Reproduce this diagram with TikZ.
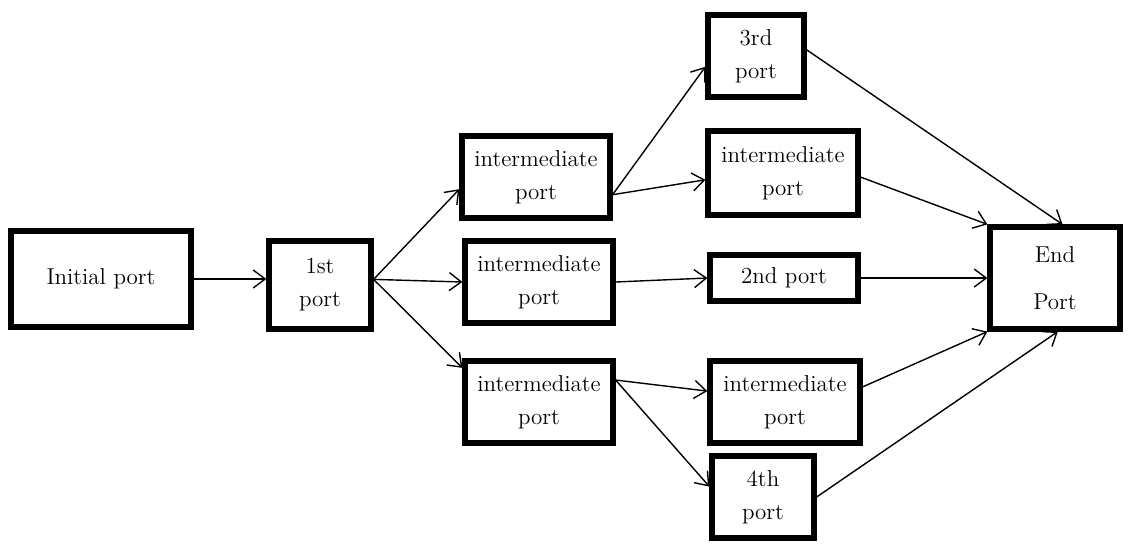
\documentclass[tikz,border=0pt]{standalone}
\usepackage{tikz}
\usetikzlibrary{arrows.meta, positioning}

\newcommand{\portfont}{\fontsize{11.5}{16.5}\selectfont}

\begin{document}
\begin{tikzpicture}[
    x=0.5pt, y=-0.5pt,
    port/.style={draw, line width=2.6pt, align=center, inner sep=0pt,
                 font=\portfont},
    flow/.style={-{Straight Barb[length=6pt,width=9pt]}, line width=0.7pt}
]
    \useasboundingbox (0,0) rectangle (1132,543);

    % Ports, left to right
    \node[port, minimum width=90pt, minimum height=48pt] (init) at (101,279) {Initial port};
    \node[port, minimum width=51pt, minimum height=44pt] (first) at (320,285) {1st\\port};

    \node[port, minimum width=74pt, minimum height=41pt] (imA) at (536,177) {intermediate\\port};
    \node[port, minimum width=74pt, minimum height=41pt] (imB) at (539,282) {intermediate\\port};
    \node[port, minimum width=74pt, minimum height=41pt] (imC) at (539,402) {intermediate\\port};

    \node[port, minimum width=48pt, minimum height=41pt] (third) at (756,56) {3rd\\port};
    \node[port, minimum width=75pt, minimum height=42pt] (imD) at (783,173) {intermediate\\port};
    \node[port, minimum width=74pt, minimum height=23pt] (second) at (784,278) {2nd port};
    \node[port, minimum width=75pt, minimum height=41pt] (imE) at (785,402) {intermediate\\port};
    \node[port, minimum width=51pt, minimum height=41pt] (fourth) at (763,497) {4th\\port};

    \node[port, minimum width=65pt, minimum height=51pt] (endp) at (1055,278) {End\\[7pt]Port};

    % Connections
    \draw[flow] (init.east) -- (init.east -| first.west);
    \draw[flow] (first.6) -- (imA.189);
    \draw[flow] (first.6) -- (imB.west);
    \draw[flow] (first.6) -- (imC.156);

    \draw[flow] (imA.-13) -- (third.192);
    \draw[flow] (imA.-13) -- (imD.185);
    \draw[flow] (imB.east) -- (second.west);
    \draw[flow] (imC.16) -- (imE.172);
    \draw[flow] (imC.16) -- (fourth.169);

    \draw[flow] (third.7) -- (endp.82);
    \draw[flow] (imD.-3) -- (endp.north west);
    \draw[flow] (second.east) -- (endp.west);
    \draw[flow] (imE.11) -- (endp.south west);
    \draw[flow] (fourth.east) -- (endp.-87);
\end{tikzpicture}
\end{document}
